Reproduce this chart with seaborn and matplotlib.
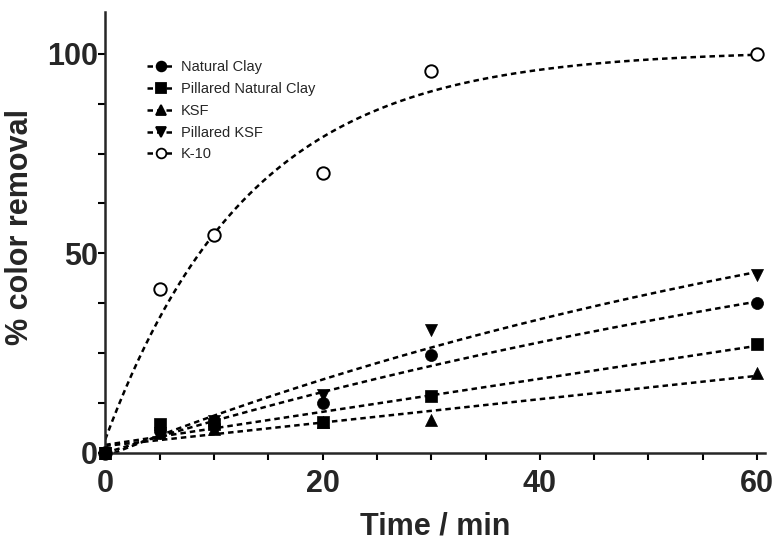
import numpy as np
import pandas as pd
import matplotlib
matplotlib.use("Agg")
import matplotlib.pyplot as plt
from matplotlib.lines import Line2D
from matplotlib.ticker import MultipleLocator
import seaborn as sns

time_min = [0, 5, 10, 20, 30, 60]
natural_clay = [0, 5.5, 7.0, 12.5, 24.5, 37.5]
pillared_natural_clay = [0, 7.2, 7.2, 7.7, 14.3, 27.3]
ksf = [0, 5.0, 6.0, 7.7, 8.3, 20.0]
pillared_ksf = [0, 5.0, 8.0, 14.5, 30.7, 44.6]
k10 = [0, 41.0, 54.6, 70.2, 95.7, 100.0]

series_names = ["Natural Clay", "Pillared Natural Clay", "KSF", "Pillared KSF", "K-10"]
series_values = [natural_clay, pillared_natural_clay, ksf, pillared_ksf, k10]
markers = ["o", "s", "^", "v", "o"]
filled = [True, True, True, True, False]

sns.set_style("ticks")
plt.rcParams["font.family"] = ["Liberation Sans", "DejaVu Sans"]


def fit_curve(t, y):
    """Least-squares fit y = a + b*(1-exp(-k t)) with grid search on k."""
    t = np.asarray(t, float)
    y = np.asarray(y, float)
    best = None
    for k in np.logspace(-4, 0, 2000):
        X = np.column_stack([np.ones_like(t), 1 - np.exp(-k * t)])
        coef, *_ = np.linalg.lstsq(X, y, rcond=None)
        r = np.sum((X @ coef - y) ** 2)
        if best is None or r < best[0]:
            best = (r, k, coef)
    _, k, coef = best
    tt = np.linspace(0, 60, 300)
    return tt, coef[0] + coef[1] * (1 - np.exp(-k * tt))


rows = []
curve_rows = []
for name, vals in zip(series_names, series_values):
    for t, v in zip(time_min, vals):
        rows.append({"Time": t, "Removal": v, "Series": name})
    tt, yy = fit_curve(time_min, vals)
    for a, b in zip(tt, yy):
        curve_rows.append({"Time": a, "Removal": b, "Series": name})
df = pd.DataFrame(rows)
cdf = pd.DataFrame(curve_rows)

fig = plt.figure(figsize=(7.74, 5.41), dpi=100)
ax = fig.add_axes([0.136, 0.163, 0.852, 0.815])

dash = (0, (2.2, 1.6))
for name in series_names:
    sub = cdf[cdf["Series"] == name]
    sns.lineplot(data=sub, x="Time", y="Removal", ax=ax, color="black",
                 linewidth=1.8, estimator=None, sort=False, legend=False)
for line in ax.get_lines():
    line.set_linestyle(dash)

order = [4, 0, 2, 3, 1]
for i in order:
    name = series_names[i]
    sub = df[df["Series"] == name]
    if filled[i]:
        sns.scatterplot(data=sub, x="Time", y="Removal", ax=ax, marker=markers[i],
                        s=75, color="black", edgecolor="black", linewidth=0.5,
                        legend=False, zorder=5, clip_on=False)
    else:
        sns.scatterplot(data=sub, x="Time", y="Removal", ax=ax, marker=markers[i],
                        s=80, facecolor="white", edgecolor="black", linewidth=1.4,
                        legend=False, zorder=5, clip_on=False)

ax.set_xlim(0, 60.7)
ax.set_ylim(0, 110.5)
ax.xaxis.set_major_locator(MultipleLocator(20))
ax.xaxis.set_minor_locator(MultipleLocator(5))
ax.yaxis.set_major_locator(MultipleLocator(50))
ax.yaxis.set_minor_locator(MultipleLocator(12.5))
sns.despine(ax=ax)
for sp in ["left", "bottom"]:
    ax.spines[sp].set_linewidth(1.8)
ax.tick_params(which="both", direction="out", width=1.5, length=5, color="black")
ax.tick_params(axis="x", which="major", labelsize=22, pad=7)
ax.tick_params(axis="y", which="major", labelsize=22, pad=0.5)
for lab in ax.get_xticklabels() + ax.get_yticklabels():
    lab.set_fontweight("bold")

ax.set_xlabel("Time / min", fontsize=22, fontweight="bold", labelpad=9)
ax.set_ylabel("% color removal", fontsize=22, fontweight="bold")
ax.yaxis.set_label_coords(-0.107, 0.513)

handles = []
for i, name in enumerate(series_names):
    handles.append(Line2D([0], [0], color="black", linestyle=dash, linewidth=1.8,
                          marker=markers[i], markersize=7,
                          markerfacecolor="black" if filled[i] else "white",
                          markeredgecolor="black", markeredgewidth=1.3, label=name))
leg = ax.legend(handles=handles, loc="upper left", bbox_to_anchor=(147 / 774, 1 - 60 / 541),
                bbox_transform=fig.transFigure, borderpad=0, borderaxespad=0,
                frameon=False, fontsize=10.5, handlelength=1.9, handletextpad=0.4,
                labelspacing=0.54)

fig.savefig("out.png", dpi=100)
